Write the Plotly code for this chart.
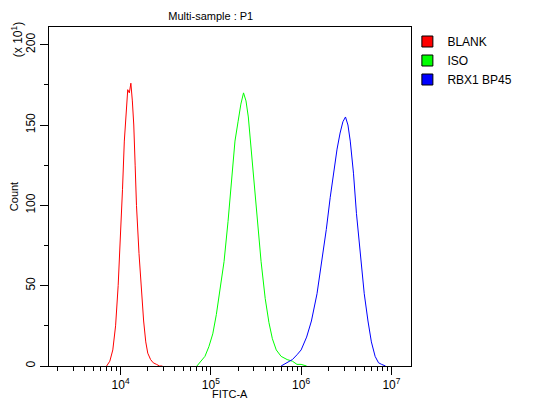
import plotly.graph_objects as go

blank_x = [7000, 7600, 8200, 8800, 9400, 10000, 10500, 11000, 11500, 12000, 12500, 13000, 13500, 14000, 14500, 15000, 16000, 17000, 18000, 19000, 20000, 21500, 23000, 25000, 27000, 29000]
blank_y = [0, 3, 10, 25, 50, 80, 110, 140, 160, 172, 170, 176, 165, 150, 125, 100, 70, 45, 28, 15, 8, 4, 2, 1, 0, 0]

iso_x = [70000, 78000, 86000, 95000, 105000, 115000, 125000, 140000, 155000, 170000, 185000, 200000, 215000, 230000, 245000, 260000, 280000, 300000, 330000, 360000, 400000, 440000, 480000, 530000, 600000, 700000, 800000, 900000, 1000000, 1150000]
iso_y = [0, 3, 6, 12, 20, 32, 45, 65, 90, 115, 140, 152, 163, 170, 165, 155, 135, 115, 90, 65, 42, 27, 17, 10, 6, 4, 3, 1, 1, 0]

rbx_x = [600000, 700000, 800000, 900000, 1000000, 1150000, 1300000, 1500000, 1700000, 1900000, 2100000, 2300000, 2500000, 2700000, 2900000, 3100000, 3300000, 3500000, 3800000, 4100000, 4500000, 5000000, 5500000, 6000000, 6600000, 7200000, 7800000, 8600000]
rbx_y = [0, 2, 4, 7, 10, 18, 28, 45, 65, 85, 105, 122, 135, 145, 152, 155, 150, 140, 120, 95, 70, 45, 28, 15, 6, 2, 1, 0]

series = [("BLANK", blank_x, blank_y, "#ff0000"),
          ("ISO", iso_x, iso_y, "#00ff00"),
          ("RBX1 BP45", rbx_x, rbx_y, "#0000ff")]

fig = go.Figure()
for name, xs, ys, c in series:
    fig.add_trace(go.Scatter(x=xs, y=ys, name=name, mode="lines", line=dict(color=c, width=1), showlegend=False))
for name, xs, ys, c in series:
    fig.add_trace(go.Scatter(x=[None], y=[None], name=name, mode="markers",
                             marker=dict(symbol="square", size=11, color=c, line=dict(color="black", width=1))))

minor_x = [k * 10**d for d in range(3, 8) for k in range(2, 10) if 10**3.2 < k * 10**d < 10**7.22]
fig.update_layout(
    width=548, height=404, margin=dict(l=41, r=145, t=19, b=46),
    paper_bgcolor="white", plot_bgcolor="white",
    font=dict(family="Liberation Sans, Arial", size=12, color="black"),
    title=dict(text="Multi-sample : P1", x=0.37, xanchor="center", y=0.99, yanchor="top", font=dict(size=11)),
    showlegend=True,
    legend=dict(x=0.99, y=1.0, xanchor="left", yanchor="top", font=dict(size=12),
                itemwidth=30, tracegroupgap=0, bgcolor="rgba(0,0,0,0)"),
    xaxis=dict(type="log", range=[3.207, 7.217], showgrid=False, zeroline=False, automargin=False,
               showline=True, mirror=True, linecolor="black", linewidth=1,
               tickvals=[1e4, 1e5, 1e6, 1e7], ticktext=["10<sup>4</sup>", "10<sup>5</sup>", "10<sup>6</sup>", "10<sup>7</sup>"],
               ticks="outside", ticklen=8, tickcolor="black",
               minor=dict(tickvals=minor_x, ticks="outside", ticklen=4, tickcolor="black")),
    yaxis=dict(range=[0, 211], showgrid=False, zeroline=False, automargin=False,
               showline=True, mirror=True, linecolor="black", linewidth=1,
               tickvals=[0, 50, 100, 150, 200], tickangle=-90, ticks="outside", ticklen=8, tickcolor="black",
               minor=dict(dtick=25, ticks="outside", ticklen=4, tickcolor="black"),
               title=dict(text="Count", standoff=4, font=dict(size=11))),
)
fig.add_annotation(text="FITC-A", xref="paper", yref="paper", x=0.5, y=-0.083,
                   xanchor="center", yanchor="middle", showarrow=False, font=dict(size=11))
fig.add_annotation(text="(x 10<sup>1</sup>)", textangle=-90, xref="paper", yref="paper", x=-0.09, y=1.02,
                   xanchor="center", yanchor="top", showarrow=False, font=dict(size=12))
fig.write_html("out.html")
